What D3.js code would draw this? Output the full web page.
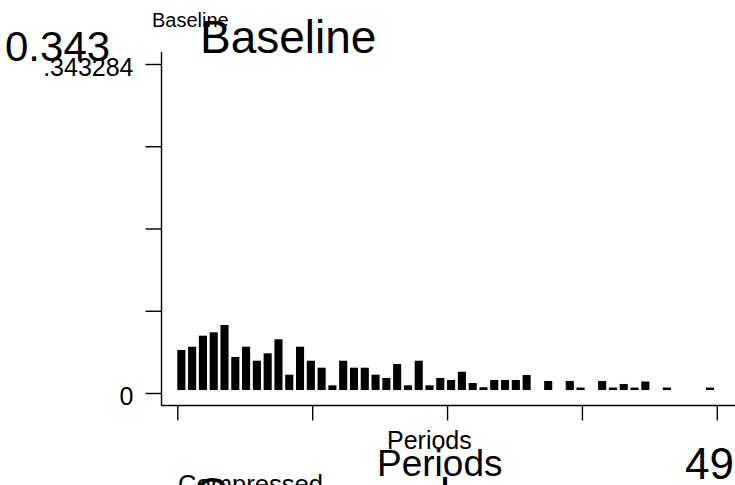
<!DOCTYPE html>
<html>
<head>
<meta charset="utf-8">
<script src="https://cdn.jsdelivr.net/npm/d3@7"></script>
<style>
  body { margin: 0; background: #fff; }
  svg { display: block; }
  text { font-family: "Liberation Sans", Arial, sans-serif; fill: #000; }
</style>
</head>
<body>
<div id="chart"></div>
<script>
// periods 0..49 and the share in each one
const periods = [0, 1, 2, 3, 4, 5, 6, 7, 8, 9, 10, 11, 12, 13, 14, 15, 16, 17, 18, 19,
  20, 21, 22, 23, 24, 25, 26, 27, 28, 29, 30, 31, 32, 33, 34, 35, 36, 37, 38, 39,
  40, 41, 42, 43, 44, 45, 46, 47, 48, 49];
const values = [0.0449, 0.0483, 0.0598, 0.0633, 0.0710, 0.0376, 0.0483, 0.0337, 0.0414, 0.0560,
  0.0191, 0.0483, 0.0337, 0.0264, 0.0080, 0.0337, 0.0264, 0.0264, 0.0191, 0.0157,
  0.0303, 0.0080, 0.0337, 0.0080, 0.0157, 0.0136, 0.0222, 0.0104, 0.0060, 0.0136,
  0.0136, 0.0136, 0.0188, 0, 0.0125, 0, 0.0125, 0.0057, 0, 0.0125,
  0.0057, 0.0094, 0.0057, 0.0120, 0, 0.0057, 0, 0, 0, 0.0057];
const barBase = 0.0031; // bars sit a little above the zero line

// axis ticks
const yMax = 0.343284;
const yTicks = [0, yMax / 4, yMax / 2, yMax * 3 / 4, yMax];
const yTickLabels = ["0", "", "", "", ".343284"];
const xTicks = [0, 12.5, 25, 37.5, 50];

const width = 735;
const height = 485;

const svg = d3.select("#chart").append("svg")
  .attr("width", width)
  .attr("height", height);

const x = d3.scaleLinear().domain([0, 50]).range([177.3, 716.8]);
const y = d3.scaleLinear().domain([0, yMax]).range([393, 64]);

// bars
svg.append("g").selectAll("rect")
  .data(periods.filter((p, i) => values[i] > 0))
  .enter().append("rect")
  .attr("x", p => x(p))
  .attr("width", x(0.75) - x(0))
  .attr("y", p => y(values[p]))
  .attr("height", p => Math.max(y(barBase) - y(values[p]), 1.5))
  .attr("fill", "#000");

// y axis
const yAxis = svg.append("g")
  .attr("transform", "translate(161.5,0)")
  .call(d3.axisLeft(y).tickValues(yTicks).tickFormat((d, i) => yTickLabels[i])
    .tickSize(16).tickPadding(12));
yAxis.select(".domain").remove();
yAxis.selectAll(".tick line").attr("stroke", "#000").attr("stroke-width", 1.4);
yAxis.selectAll(".tick text")
  .attr("font-size", 25)
  .attr("font-family", "Liberation Sans, Arial, sans-serif")
  .attr("dy", "0.44em");
svg.append("line")
  .attr("x1", 161.5).attr("x2", 161.5)
  .attr("y1", 52).attr("y2", 405.5)
  .attr("stroke", "#000").attr("stroke-width", 1.4);

// x axis
const xAxis = svg.append("g")
  .attr("transform", "translate(0,405.5)")
  .call(d3.axisBottom(x).tickValues(xTicks).tickFormat("").tickSize(15));
xAxis.select(".domain").remove();
xAxis.selectAll(".tick line").attr("stroke", "#000").attr("stroke-width", 1.4);
svg.append("line")
  .attr("x1", 161).attr("x2", width)
  .attr("y1", 405.5).attr("y2", 405.5)
  .attr("stroke", "#000").attr("stroke-width", 1.4);

// titles, drawn twice at two sizes as in the original
svg.append("text").attr("x", 5).attr("y", 61).attr("font-size", 42).text("0.343");
svg.append("text").attr("x", 152).attr("y", 27).attr("font-size", 20).text("Baseline");
svg.append("text").attr("x", 200).attr("y", 53).attr("font-size", 46).text("Baseline");
svg.append("text").attr("x", 387).attr("y", 449).attr("font-size", 25).text("Periods");
svg.append("text").attr("x", 377).attr("y", 476).attr("font-size", 37).text("Periods");
svg.append("text").attr("x", 734).attr("y", 479).attr("font-size", 44)
  .attr("text-anchor", "end").text("49");
svg.append("text").attr("x", 178).attr("y", 493).attr("font-size", 25.6).text("Compressed");
svg.append("text").attr("x", 195).attr("y", 509).attr("font-size", 45).text("Compressed");
</script>
</body>
</html>
